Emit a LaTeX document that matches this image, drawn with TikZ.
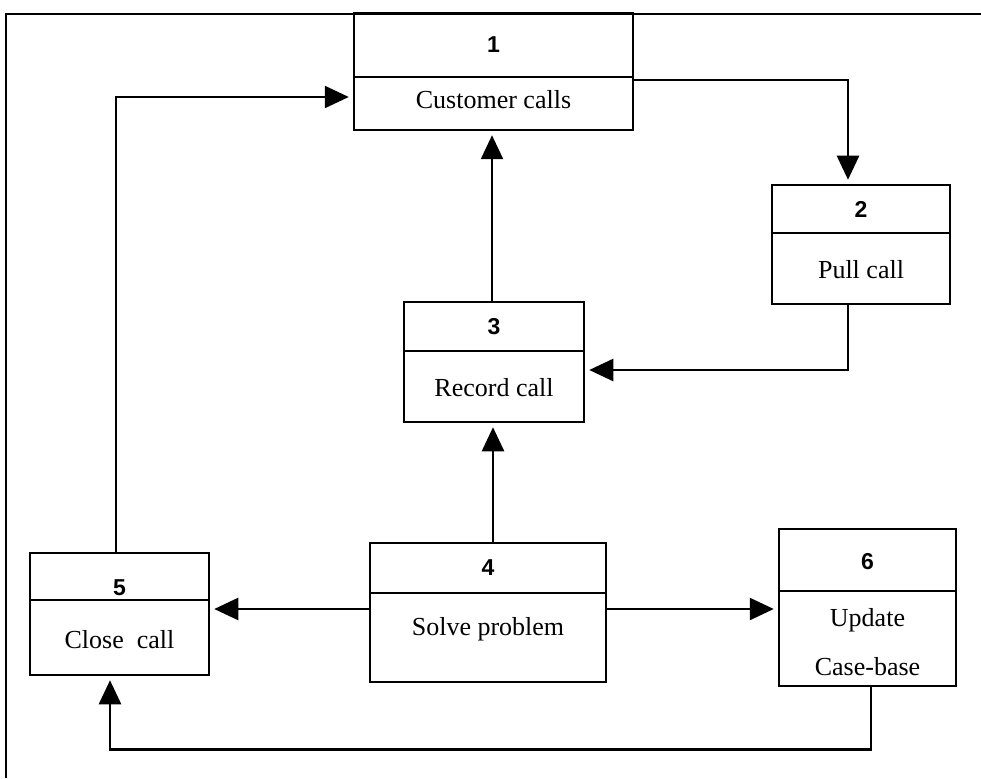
\documentclass[tikz,border=0pt]{standalone}
\usepackage{fontspec}
\setmainfont{Liberation Serif}
\newfontfamily\numfont{Liberation Sans}
\usepackage{tikz}
\usetikzlibrary{arrows.meta, calc}

\tikzset{
    procbox/.style = {draw, line width=2.5pt, inner sep=0pt},
    numtxt/.style = {font=\numfont\bfseries\fontsize{23}{28}\selectfont},
    labtxt/.style = {font=\fontsize{26}{30}\selectfont, align=center},
    arr/.style = {line width=2.5pt, -{Triangle[length=24pt, width=22pt]}, shorten >=4pt},
}

\begin{document}
\begin{tikzpicture}[x=1pt, y=1pt]

            \useasboundingbox (0,0) rectangle (981,-778);

            % outer frame
            \draw[line width=2.5pt] (6,-778) -- (6,-14) -- (981,-14);

            % process boxes
            \node[procbox, minimum width=279pt, minimum height=117pt] (p1) at (493.5,-71.5) {};
            \draw[line width=2.5pt] (p1.west |- 0,-77) -- (p1.east |- 0,-77);
            \node[numtxt] (n1) at (493.5,-45) {1};
            \node[labtxt] (l1) at (493.5,-100) {Customer calls};

            \node[procbox, minimum width=178pt, minimum height=119pt] (p2) at (861,-244.5) {};
            \draw[line width=2.5pt] (p2.west |- 0,-233) -- (p2.east |- 0,-233);
            \node[numtxt] (n2) at (861,-209) {2};
            \node[labtxt] (l2) at (861,-270) {Pull call};

            \node[procbox, minimum width=180pt, minimum height=120pt] (p3) at (494,-362) {};
            \draw[line width=2.5pt] (p3.west |- 0,-351) -- (p3.east |- 0,-351);
            \node[numtxt] (n3) at (494,-327) {3};
            \node[labtxt] (l3) at (494,-388) {Record call};

            \node[procbox, minimum width=236pt, minimum height=139pt] (p4) at (488,-612.5) {};
            \draw[line width=2.5pt] (p4.west |- 0,-593) -- (p4.east |- 0,-593);
            \node[numtxt] (n4) at (488,-568) {4};
            \node[labtxt] (l4) at (488,-629) {Solve problem};

            \node[procbox, minimum width=179pt, minimum height=122pt] (p5) at (119.5,-614) {};
            \draw[line width=2.5pt] (p5.west |- 0,-600) -- (p5.east |- 0,-600);
            \node[numtxt] (n5) at (119.5,-588) {5};
            \node[labtxt] (l5) at (119.5,-640) {Close\ \ call};

            \node[procbox, minimum width=177pt, minimum height=157pt] (p6) at (867.5,-607.5) {};
            \draw[line width=2.5pt] (p6.west |- 0,-591) -- (p6.east |- 0,-591);
            \node[numtxt] (n6) at (867.5,-562) {6};
            \node[labtxt, font=\fontsize{26}{49}\selectfont] (l6) at (867.5,-642) {Update\\Case-base};

            % flows
            \draw[arr] (p5.north -| 116,0) |- (p1.west |- 0,-97);
            \draw[arr] (p1.east |- 0,-80) -| (p2.north -| 848,0);
            \draw[arr] (p3.north -| 492,0) -- (p1.south -| 492,0);
            \draw[arr] (p2.south -| 848,0) |- (p3.east |- 0,-370);
            \draw[arr] (p4.north -| 493,0) -- (p3.south -| 493,0);
            \draw[arr] (p4.west |- 0,-609) -- (p5.east |- 0,-609);
            \draw[arr] (p4.east |- 0,-609) -- (p6.west |- 0,-609);
            \draw[arr] (p6.south -| 871,0) -- ++(0,-62) -| (p5.south -| 110,0);

\end{tikzpicture}
\end{document}
